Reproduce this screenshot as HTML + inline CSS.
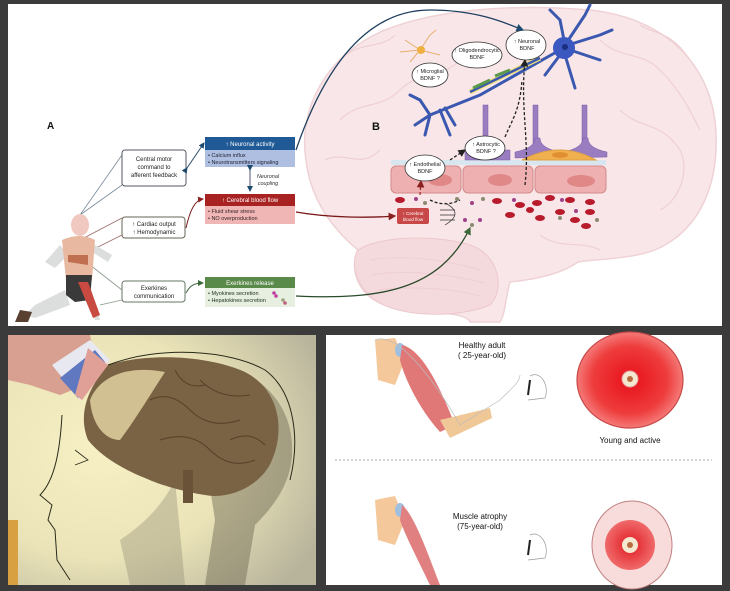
<!DOCTYPE html>
<html><head><meta charset="utf-8"><style>
html,body{margin:0;padding:0;background:#3b3b3b;}
svg{display:block;font-family:"Liberation Sans",sans-serif;}
</style></head><body>
<svg width="730" height="591" viewBox="0 0 730 591" xmlns="http://www.w3.org/2000/svg">
<defs>
<radialGradient id="rg1" cx="50%" cy="50%" r="50%"><stop offset="0" stop-color="#e8101a"/><stop offset="0.7" stop-color="#ee3c3c"/><stop offset="1" stop-color="#f47a78"/></radialGradient>
<radialGradient id="rg2" cx="50%" cy="50%" r="50%"><stop offset="0" stop-color="#e01a22"/><stop offset="1" stop-color="#f06a6a"/></radialGradient>
<radialGradient id="ph" cx="30%" cy="45%" r="80%"><stop offset="0" stop-color="#f6f0c4"/><stop offset="0.55" stop-color="#ebe4b8"/><stop offset="1" stop-color="#b8b49c"/></radialGradient>
<marker id="ab" markerWidth="6" markerHeight="6" refX="5" refY="3" orient="auto"><path d="M0,0L6,3L0,6z" fill="#1f4a70"/></marker>
<marker id="ar" markerWidth="6" markerHeight="6" refX="5" refY="3" orient="auto"><path d="M0,0L6,3L0,6z" fill="#8a2020"/></marker>
<marker id="ag" markerWidth="6" markerHeight="6" refX="5" refY="3" orient="auto"><path d="M0,0L6,3L0,6z" fill="#3a6a3a"/></marker>
<marker id="ak" markerWidth="6" markerHeight="6" refX="5" refY="3" orient="auto"><path d="M0,0L6,3L0,6z" fill="#222"/></marker>
</defs>
<rect width="730" height="591" fill="#3b3b3b"/>
<rect x="8" y="4" width="714" height="322" fill="#fff"/>
<!-- brain -->
<path d="M306,160 C298,110 325,55 385,30 C440,8 520,4 590,10 C665,18 714,65 716,135 C718,185 700,225 665,245 C640,260 600,258 578,262 C560,275 530,280 510,282 C505,300 505,315 500,322 L470,322 C465,310 420,315 385,305 C355,295 350,265 358,250 C328,225 310,195 306,160Z" fill="#f9e6e8" stroke="#efd2d6" stroke-width="1.5"/>
<path d="M358,250 C380,235 440,235 470,245 C500,255 505,290 490,305 C460,318 400,318 375,300 C355,285 350,262 358,250Z" fill="#f5dadd" stroke="#ecc8cc"/>
<g fill="none" stroke="#efd0d4" stroke-width="1.2">
<path d="M340,120 C360,100 380,110 400,90 C420,70 440,80 460,60"/>
<path d="M325,160 C345,150 360,170 380,150"/>
<path d="M600,40 C620,60 640,50 660,70 C680,90 690,110 700,130"/>
<path d="M620,110 C640,130 660,120 680,150 C690,170 680,200 660,210"/>
<path d="M540,235 C560,250 580,240 600,250"/>
<path d="M340,60 C360,40 380,50 395,35"/><path d="M640,25 C655,35 670,30 690,60"/>
<path d="M370,260 C400,255 440,258 480,270"/><path d="M372,275 C400,270 440,272 485,283"/><path d="M378,290 C410,286 450,288 480,296"/>
</g>
<!-- endothelial layer -->
<rect x="391" y="160" width="215" height="5" fill="#d8e6f0"/>
<rect x="391" y="166" width="70" height="27" rx="5" fill="#eeb0b0" stroke="#d48a8a"/>
<rect x="463" y="166" width="70" height="27" rx="5" fill="#eeb0b0" stroke="#d48a8a"/>
<rect x="535" y="166" width="71" height="27" rx="5" fill="#eeb0b0" stroke="#d48a8a"/>
<ellipse cx="440" cy="180" rx="12" ry="6" fill="#e08888"/><ellipse cx="500" cy="180" rx="12" ry="6" fill="#e08888"/><ellipse cx="581" cy="181" rx="14" ry="6" fill="#e08888"/>
<g fill="#b81c2c">
<ellipse cx="400" cy="200" rx="5" ry="3"/><ellipse cx="497" cy="201" rx="5" ry="3"/><ellipse cx="520" cy="205" rx="5" ry="3"/><ellipse cx="537" cy="203" rx="5" ry="3"/><ellipse cx="550" cy="198" rx="5" ry="3"/><ellipse cx="570" cy="200" rx="5" ry="3"/><ellipse cx="590" cy="202" rx="5" ry="3"/><ellipse cx="510" cy="215" rx="5" ry="3"/><ellipse cx="540" cy="218" rx="5" ry="3"/><ellipse cx="560" cy="212" rx="5" ry="3"/><ellipse cx="575" cy="220" rx="5" ry="3"/><ellipse cx="590" cy="212" rx="5" ry="3"/><ellipse cx="586" cy="226" rx="5" ry="3"/><ellipse cx="530" cy="210" rx="4" ry="3"/>
</g>
<g fill="#a0408a"><circle cx="416" cy="199" r="2"/><circle cx="472" cy="203" r="2"/><circle cx="465" cy="220" r="2"/><circle cx="480" cy="220" r="2"/><circle cx="514" cy="200" r="2"/><circle cx="576" cy="211" r="2"/><circle cx="562" cy="200" r="2"/></g>
<g fill="#8a8a70"><circle cx="425" cy="203" r="2"/><circle cx="457" cy="199" r="2"/><circle cx="483" cy="199" r="2"/><circle cx="472" cy="225" r="2"/><circle cx="597" cy="220" r="2"/><circle cx="560" cy="218" r="2"/></g>
<g fill="#9a7cc0" stroke="#7a5aa8" stroke-width="0.5">
<rect x="483" y="105" width="5" height="50"/><rect x="533" y="105" width="5" height="45"/><rect x="582" y="105" width="5" height="45"/>
<path d="M465,150 L510,150 L510,160 L465,160Z"/>
<path d="M515,152 Q535,148 535,138 L540,138 Q540,148 560,152 L560,157 L515,158Z"/>
<path d="M563,152 Q583,148 583,138 L588,138 Q588,148 607,152 L607,157 L563,158Z"/>
</g>
<path d="M522,160 Q560,140 596,160Z" fill="#f0b050" stroke="#e0a040"/>
<ellipse cx="560" cy="155" rx="8" ry="3" fill="#e09030"/>
<g stroke="#3a58b0" stroke-width="3" fill="none" stroke-linecap="round">
<path d="M560,50 L480,95 L430,115"/>
<path d="M430,115 L420,100 M430,115 L425,135 M440,110 L450,135 M445,108 L455,125 M430,115 L415,125 M420,100 L410,95"/>
<path d="M565,45 L560,20 M565,45 L585,15 M568,45 L600,35 M570,50 L600,60 M565,55 L575,88 M560,55 L545,75 M585,15 L590,5 M560,20 L550,10 M600,35 L612,30"/>
</g>
<circle cx="564" cy="48" r="11" fill="#3a58c0"/><circle cx="565" cy="47" r="3" fill="#1a2e80"/>
<path d="M470,92 L540,58" stroke="#f0e080" stroke-width="5"/>
<path d="M470,92 L540,58" stroke="#3a58b0" stroke-width="2.5"/>
<path d="M473,88 L490,80 M495,76 L510,70" stroke="#5a9a4a" stroke-width="3"/>
<g stroke="#e8b070" stroke-width="1" fill="none"><path d="M420,50 L405,40 M420,50 L430,35 M420,50 L440,55 M420,50 L410,62 M420,50 L400,52 M430,35 L436,30"/></g>
<circle cx="421" cy="50" r="4" fill="#f0b040"/>
<g stroke="#222" stroke-width="1.3" fill="none" stroke-dasharray="3,2">
<path d="M525,185 C530,140 520,110 525,60" marker-end="url(#ak)"/>
<path d="M450,160 L465,150" marker-end="url(#ak)"/>
<path d="M505,137 C512,120 520,110 522,80"/>
<path d="M430,200 C440,205 450,205 460,200"/>
</g>
<path d="M420,195 L421,181" stroke="#a03030" stroke-width="1.3" stroke-dasharray="3,2" marker-end="url(#ar)"/>
<g fill="#fff" stroke="#333" stroke-width="0.8">
<ellipse cx="526" cy="45" rx="20" ry="15"/><ellipse cx="477" cy="55" rx="25" ry="13"/><ellipse cx="430" cy="75" rx="18" ry="12"/><ellipse cx="485" cy="148" rx="20" ry="12"/><ellipse cx="425" cy="168" rx="20" ry="13"/>
</g>
<g font-size="5.5" fill="#222" text-anchor="middle">
<text x="527" y="43">↑ Neuronal</text><text x="527" y="50">BDNF</text>
<text x="477" y="52">↑ Oligodendrocytic</text><text x="477" y="59">BDNF</text>
<text x="430" y="73">↑ Microglial</text><text x="430" y="80">BDNF ?</text>
<text x="486" y="146">↑ Astrocytic</text><text x="486" y="153">BDNF ?</text>
<text x="425" y="166">↑ Endothelial</text><text x="425" y="173">BDNF</text>
</g>
<rect x="397" y="208" width="32" height="16" rx="2" fill="#c84848"/>
<text x="413" y="215" font-size="4.5" fill="#fff" text-anchor="middle">↑ Cerebral</text><text x="413" y="221" font-size="4.5" fill="#fff" text-anchor="middle">blood flow</text>
<g stroke="#333" stroke-width="0.7"><path d="M440,210 L455,210 M440,215 L455,215 M440,220 L455,220"/><path d="M445,203 Q465,213 445,225" fill="none"/></g>
<text x="372" y="130" font-size="11" font-weight="bold" fill="#111">B</text>
<path d="M296,150 C320,80 360,10 430,10 C480,10 510,25 523,30" stroke="#1f3f60" stroke-width="1.3" fill="none" marker-end="url(#ab)"/>
<path d="M296,212 C330,218 370,218 395,216" stroke="#7a1818" stroke-width="1.3" fill="none" marker-end="url(#ar)"/>
<path d="M296,296 C380,300 440,290 470,228" stroke="#2a4a2a" stroke-width="1.3" fill="none" marker-end="url(#ag)"/>
<!-- panel A -->
<text x="47" y="129" font-size="10" font-weight="bold" fill="#111">A</text>
<g stroke="#7a8a9a" stroke-width="0.8" fill="none"><path d="M80,215 L122,155 M80,215 L122,185"/></g>
<g stroke="#9a6a6a" stroke-width="0.8" fill="none"><path d="M80,240 L122,218 M82,255 L122,235"/></g>
<g stroke="#8a9a8a" stroke-width="0.8" fill="none"><path d="M90,265 L122,290 M100,305 L122,300"/></g>
<rect x="122" y="150" width="64" height="36" rx="3" fill="#fff" stroke="#556"/>
<g font-size="6" fill="#222" text-anchor="middle"><text x="154" y="161">Central motor</text><text x="154" y="169">command to</text><text x="154" y="177">afferent feedback</text></g>
<rect x="122" y="217" width="63" height="21" rx="3" fill="#fff" stroke="#665"/>
<g font-size="6" fill="#222" text-anchor="middle"><text x="154" y="226">↑ Cardiac output</text><text x="154" y="234">↑ Hemodynamic</text></g>
<rect x="122" y="281" width="63" height="21" rx="3" fill="#fff" stroke="#676"/>
<g font-size="6" fill="#222" text-anchor="middle"><text x="154" y="290">Exerkines</text><text x="154" y="298">communication</text></g>
<path d="M187,168 L204,143" stroke="#2a4a6a" stroke-width="1" marker-end="url(#ab)" marker-start="url(#ab)"/>
<path d="M186,228 C190,210 195,200 203,199" stroke="#7a2020" fill="none" marker-end="url(#ar)"/>
<path d="M186,293 C190,285 195,283 203,283" stroke="#4a6a4a" fill="none" marker-end="url(#ag)"/>
<rect x="205" y="137" width="90" height="13" fill="#1f5a96"/><rect x="205" y="150" width="90" height="17" fill="#aebfe2"/>
<text x="250" y="146" font-size="6" fill="#fff" text-anchor="middle">↑ Neuronal activity</text>
<text x="208" y="157" font-size="5.5" fill="#223">• Calcium influx</text><text x="208" y="164" font-size="5.5" fill="#223">• Neurotransmitters signaling</text>
<path d="M250,170 L250,191" stroke="#557" stroke-width="1" marker-end="url(#ab)" marker-start="url(#ab)"/>
<text x="268" y="178" font-size="5.5" font-style="italic" fill="#333" text-anchor="middle">Neuronal</text><text x="268" y="185" font-size="5.5" font-style="italic" fill="#333" text-anchor="middle">coupling</text>
<rect x="205" y="194" width="90" height="12" fill="#a82222"/><rect x="205" y="206" width="90" height="18" fill="#f0b6b6"/>
<text x="250" y="202" font-size="6" fill="#fff" text-anchor="middle">↑ Cerebral blood flow</text>
<text x="208" y="213" font-size="5.5" fill="#322">• Fluid shear stress</text><text x="208" y="220" font-size="5.5" fill="#322">• NO overproduction</text>
<rect x="205" y="277" width="90" height="11" fill="#5a8a4a"/><rect x="205" y="288" width="90" height="19" fill="#e6efe0"/>
<text x="250" y="285" font-size="6" fill="#fff" text-anchor="middle">Exerkines release</text>
<text x="208" y="295" font-size="5.5" fill="#232">• Myokines secretion</text><text x="208" y="302" font-size="5.5" fill="#232">• Hepatokines secretion</text>
<circle cx="274" cy="293" r="1.8" fill="#c040a0"/><circle cx="276" cy="296" r="1.8" fill="#c040a0"/><circle cx="283" cy="300" r="1.8" fill="#a0a080"/><circle cx="285" cy="303" r="1.8" fill="#c06080"/>
<!-- runner -->
<g fill="#dcdede">
<path d="M60,245 L45,262 L55,268 L68,255Z"/><path d="M95,245 L112,255 L108,262 L92,252Z"/>
<path d="M65,290 L35,305 L25,315 L35,318 L70,305Z"/><path d="M80,290 L95,320 L100,320 L90,285Z"/>
</g>
<ellipse cx="80" cy="225" rx="9" ry="11" fill="#f0c8c0"/>
<path d="M62,240 Q80,232 95,240 L92,280 L66,280Z" fill="#e8b8a0"/>
<path d="M66,275 L92,275 L90,300 L75,302 L66,295Z" fill="#3a3a3a"/>
<path d="M78,282 L88,282 L100,315 L93,318Z" fill="#c84a40"/>
<path d="M68,255 L88,255 L88,265 L68,262Z" fill="#c07050"/>
<path d="M20,310 L32,312 L28,322 L15,322Z" fill="#5a4030"/>
<!-- bottom-left photo -->
<rect x="8" y="335" width="308" height="250" fill="url(#ph)"/>
<path d="M190,360 C240,360 290,390 292,445 C294,480 275,505 255,525 L245,585 L205,585 L215,520 Z" fill="#6a6450" opacity="0.45"/>
<path d="M120,540 C150,520 165,500 175,480 L185,585 L130,585Z" fill="#8a8470" opacity="0.35"/>
<path d="M108,365 C150,352 210,356 245,372 C280,390 285,430 272,460 C262,485 230,500 205,495 C185,492 160,485 145,478 C120,468 100,455 88,440 C80,420 82,395 108,365Z" fill="#7a6245"/>
<path d="M90,400 C100,375 130,365 165,372 C150,395 135,420 120,440 C105,440 92,425 90,400Z" fill="#e0d2a0" opacity="0.85"/>
<rect x="183" y="470" width="10" height="33" fill="#6a5238"/>
<g stroke="#4a3a22" stroke-width="1" fill="none" opacity="0.8"><path d="M150,400 Q170,390 190,410 Q210,430 240,420"/><path d="M160,440 Q190,430 210,450 Q230,470 255,460"/><path d="M200,380 Q220,400 250,395"/><path d="M175,370 Q185,390 205,385"/><path d="M230,440 Q250,430 265,445"/></g>
<path d="M108,365 C160,345 230,350 265,370 C295,392 300,440 290,480" stroke="#2a2a1a" stroke-width="1" fill="none"/>
<path d="M62,415 C60,450 55,480 40,495 L52,505 L48,520 L55,530 L57,560 L70,580" stroke="#2a2a1a" stroke-width="1" fill="none"/>
<path d="M75,450 L88,460 L75,465" stroke="#2a2a1a" stroke-width="0.8" fill="none"/>
<path d="M8,335 L90,335 L95,360 L85,385 L60,395 L30,385 L8,380Z" fill="#d8a090"/>
<path d="M52,365 L90,340 L110,360 L80,400Z" fill="#e8e8f0"/><path d="M60,378 L95,350 L105,362 L78,398Z" fill="#6078c0"/><path d="M88,348 L108,365 L82,400 L75,395Z" fill="#e0a098"/>
<rect x="8" y="520" width="10" height="65" fill="#d8a040"/>
<!-- bottom-right panel -->
<rect x="326" y="335" width="396" height="250" fill="#fff"/>
<path d="M335,460 L712,460" stroke="#888" stroke-width="0.7" stroke-dasharray="2,2"/>
<g font-size="8" fill="#111" text-anchor="middle">
<text x="482" y="348">Healthy adult</text><text x="482" y="358">( 25-year-old)</text>
<text x="630" y="443">Young and active</text>
<text x="480" y="519">Muscle atrophy</text><text x="480" y="529">(75-year-old)</text>
</g>
<path d="M375,340 L395,338 L405,360 L395,385 L378,380Z" fill="#f4c89a"/>
<ellipse cx="400" cy="350" rx="5" ry="7" fill="#a0c0e0"/>
<path d="M402,345 C425,350 445,400 455,425 L440,432 C420,410 405,380 400,360Z" fill="#e07878"/>
<path d="M440,420 L490,408 L492,418 L450,438Z" fill="#f0c898"/>
<path d="M375,340 C400,330 440,390 460,425 L500,400 C510,390 520,382 520,375" fill="none" stroke="#bbb" stroke-width="0.7"/>
<path d="M530,376 C540,370 550,385 545,398 L528,400" fill="#fff" stroke="#999" stroke-width="0.7"/>
<path d="M530,380 L528,395" stroke="#222" stroke-width="2"/>
<path d="M375,500 L395,496 L405,520 L395,545 L378,540Z" fill="#f4c89a"/>
<ellipse cx="400" cy="510" rx="5" ry="7" fill="#a0c0e0"/>
<path d="M402,505 C415,515 430,560 440,585 L430,585 C418,560 405,535 400,520Z" fill="#e08080"/>
<path d="M530,535 C540,530 550,545 545,558 L528,560" fill="#fff" stroke="#999" stroke-width="0.7"/>
<path d="M530,540 L528,555" stroke="#222" stroke-width="2"/>
<ellipse cx="630" cy="380" rx="53" ry="48" fill="url(#rg1)" stroke="#c84848" stroke-width="1.2"/>
<circle cx="630" cy="379" r="8" fill="#f5e8d0" stroke="#e0a0a0"/><circle cx="630" cy="379" r="3" fill="#b86a40"/>
<ellipse cx="632" cy="545" rx="40" ry="44" fill="#f8dcdc" stroke="#c08080" stroke-width="1"/>
<ellipse cx="630" cy="545" rx="25" ry="25" fill="url(#rg2)"/>
<circle cx="630" cy="545" r="8" fill="#f5e8d0"/><circle cx="630" cy="545" r="3" fill="#b86a40"/>
</svg>
</body></html>
